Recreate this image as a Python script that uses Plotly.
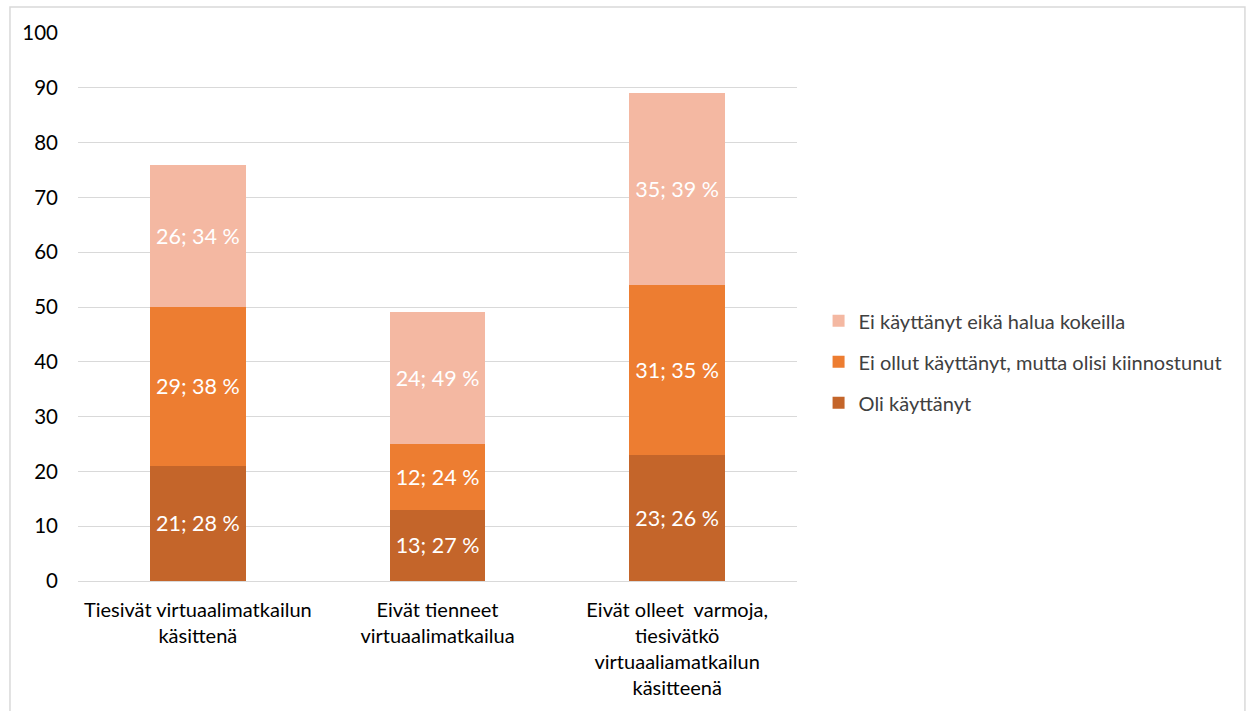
import plotly.graph_objects as go

categories = [
    "Tiesivät virtuaalimatkailun<br>käsittenä",
    "Eivät tienneet<br>virtuaalimatkailua",
    "Eivät olleet  varmoja,<br>tiesivätkö<br>virtuaaliamatkailun<br>käsitteenä",
]
series_names = [
    "Oli käyttänyt",
    "Ei ollut käyttänyt, mutta olisi kiinnostunut",
    "Ei käyttänyt eikä halua kokeilla",
]
oli_kayttanyt = [21, 13, 23]
olisi_kiinnostunut = [29, 12, 31]
ei_halua = [26, 24, 35]
y_ticks = [0, 10, 20, 30, 40, 50, 60, 70, 80, 90, 100]

colors = ["#C4652A", "#ED7D31", "#F4B8A2"]
series = [oli_kayttanyt, olisi_kiinnostunut, ei_halua]
totals = [sum(v) for v in zip(*series)]

FONT = "Lato, 'Open Sans', sans-serif"

fig = go.Figure()
for i, (name, vals, col) in enumerate(zip(series_names, series, colors)):
    labels = [f"{v}; {round(v / t * 100)} %" for v, t in zip(vals, totals)]
    fig.add_trace(go.Bar(
        x=categories, y=vals, name=name,
        marker=dict(color=col, line=dict(width=0)),
        text=labels, textposition="inside", insidetextanchor="middle",
        textfont=dict(color="white", size=21.5, family=FONT),
        legendgroup=name, legendrank=100 - i,
    ))

fig.update_layout(
    barmode="stack",
    bargap=0.6,
    width=1253, height=711,
    margin=dict(l=78, r=456, t=33, b=130, autoexpand=False),
    paper_bgcolor="white", plot_bgcolor="white",
    font=dict(family=FONT, size=20, color="#000000"),
    showlegend=True,
    legend=dict(
        x=1.03, y=0.40, xanchor="left", yanchor="middle",
        traceorder="grouped", tracegroupgap=12,
        font=dict(size=20, color="#404040", family=FONT),
        itemwidth=30, bgcolor="rgba(0,0,0,0)",
    ),
    xaxis=dict(
        showline=True, linecolor="#D9D9D9", linewidth=1,
        tickfont=dict(size=20, color="#000000"),
        ticks="", ticklen=0, ticklabelstandoff=11,
    ),
    yaxis=dict(
        range=[0, 100], tickvals=y_ticks,
        showgrid=True, gridcolor="#D9D9D9", gridwidth=1,
        zeroline=False, showline=False,
        tickfont=dict(size=20.5, color="#000000"),
        ticklabelstandoff=19,
    ),
)

# outer chart border
fig.add_shape(type="rect", xref="paper", yref="paper",
              x0=-0.0946, x1=1.623, y0=-0.26, y1=1.0474,
              line=dict(color="#D9D9D9", width=1.5), layer="below")

fig.write_html("out.html")
